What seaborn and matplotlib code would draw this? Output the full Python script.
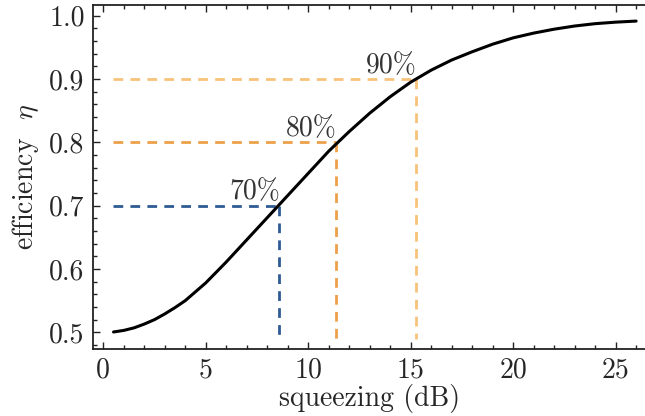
import matplotlib
matplotlib.use("Agg")
import matplotlib.pyplot as plt
from matplotlib.ticker import MultipleLocator
import seaborn as sns
import pandas as pd

# ---- data ----
squeezing_db = [0.5, 1, 1.5, 2, 2.5, 3, 3.5, 4, 5, 6, 7, 8, 9, 10, 11, 12, 13,
                14, 15, 16, 17, 18, 19, 20, 21, 22, 23, 24, 25, 26]
efficiency = [0.5005, 0.503, 0.507, 0.513, 0.520, 0.529, 0.539, 0.550, 0.578,
              0.611, 0.646, 0.681, 0.716, 0.751, 0.786, 0.817, 0.846, 0.872,
              0.895, 0.914, 0.930, 0.943, 0.955, 0.965, 0.9725, 0.9787,
              0.9837, 0.9874, 0.9898, 0.9915]

levels = [0.7, 0.8, 0.9]
level_labels = ["70%", "80%", "90%"]
level_db = [8.57, 11.34, 15.26]
level_colors = ["#2f5b93", "#eda04a", "#f7c27a"]

df = pd.DataFrame({"squeezing": squeezing_db, "efficiency": efficiency})

sns.set_style("ticks")
plt.rcParams["font.family"] = ["serif"]
plt.rcParams["font.serif"] = ["cmr10", "DejaVu Serif"]
plt.rcParams["mathtext.fontset"] = "cm"
plt.rcParams["axes.formatter.use_mathtext"] = True

fig = plt.figure(figsize=(6.45, 4.16), dpi=100)
ax = fig.add_axes([0.1442, 0.161, 0.856, 0.827])

x0, x1 = -0.5, 26.44
y0, y1 = 0.4736, 1.0169

for lv, lab, xd, c in zip(levels, level_labels, level_db, level_colors):
    ax.plot([0.47, xd], [lv, lv], color=c, lw=2, dashes=(3.5, 2.6))
    ax.plot([xd, xd], [lv, 0.49], color=c, lw=2, dashes=(3.5, 2.6))
    ax.text(xd + 0.05, lv + 0.010, lab, ha="right", va="baseline",
            fontsize=20, color="#333333")

sns.lineplot(data=df, x="squeezing", y="efficiency", ax=ax, color="black",
             lw=2.2, zorder=5)

ax.set_xlim(x0, x1)
ax.set_ylim(y0, y1)
ax.xaxis.set_minor_locator(MultipleLocator(1))
ax.yaxis.set_minor_locator(MultipleLocator(0.02))
ax.set_yticks([0.5, 0.6, 0.7, 0.8, 0.9, 1.0])
ax.set_yticklabels(["0.5", "0.6", "0.7", "0.8", "0.9", "1.0"])
ax.set_xticks([0, 5, 10, 15, 20, 25])
ax.set_xticklabels(["0", "5", "10", "15", "20", "25"])

ax.tick_params(which="both", direction="in", top=True, right=False,
               labelsize=20, width=1, color="#222222")
ax.tick_params(which="major", length=5, pad=6)
ax.tick_params(which="minor", length=3)
ax.spines["right"].set_visible(False)
for s in ["left", "bottom", "top"]:
    ax.spines[s].set_linewidth(1.3)
    ax.spines[s].set_color("#222222")

ax.set_xlabel("squeezing (dB)", fontsize=20, labelpad=0)
ax.set_ylabel(r"efficiency  $\eta$", fontsize=20, labelpad=6)

fig.savefig("out.png", dpi=100)
